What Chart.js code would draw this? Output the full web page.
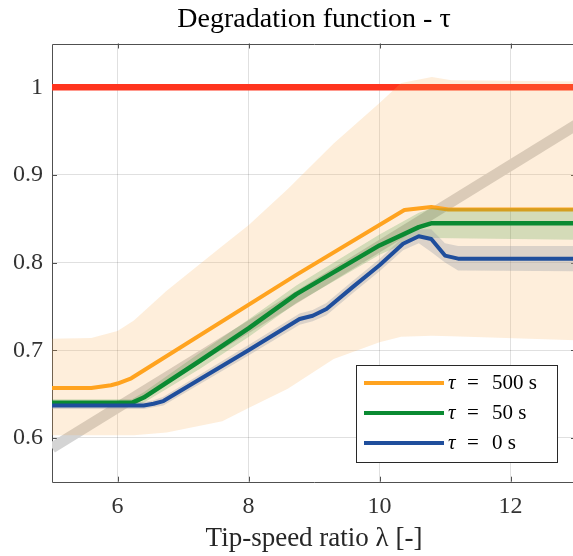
<!DOCTYPE html>
<html>
<head>
<meta charset="utf-8">
<script src="https://cdn.jsdelivr.net/npm/chart.js@4.4.1/dist/chart.umd.min.js"></script>
<style>
  html, body { margin: 0; padding: 0; background: #fff; overflow: hidden; }
</style>
</head>
<body>
<canvas id="degradChart" width="580" height="556"></canvas>
<script>
// Axes
const xTicks = [6, 8, 10, 12];
const yTicks = [0.6, 0.7, 0.8, 0.9, 1];

// Ligne de référence (rouge) et ligne grise
const refX = [5, 13];
const refY = [1, 1];
const diagX = [5, 13];
const diagY = [0.5886, 0.957];

// Bande orange (enveloppe)
const bandX = [5, 5.6, 6, 6.25, 6.75, 7.6, 8, 8.6, 9.3, 10, 10.33, 10.8, 11.1, 13];
const bandUpper = [0.713, 0.714, 0.722, 0.734, 0.768, 0.819, 0.8425, 0.884, 0.936, 0.982, 1.005, 1.0117, 1.008, 1.0067];
const bandLower = [0.603, 0.603, 0.603, 0.603, 0.606, 0.619, 0.634, 0.656, 0.690, 0.709, 0.7155, 0.7165, 0.716, 0.7115];

// tau = 500 s
const tau500X = [5, 5.6, 5.9, 6.0, 6.21, 8.73, 10.38, 10.79, 11.05, 13];
const tau500Y = [0.657, 0.657, 0.660, 0.662, 0.668, 0.786, 0.860, 0.8635, 0.8605, 0.8605];

// tau = 50 s
const tau50X = [5, 6.22, 6.4, 7.26, 8, 8.73, 10, 10.6, 10.8, 13];
const tau50Y = [0.640, 0.640, 0.646, 0.688, 0.725, 0.764, 0.8196, 0.8405, 0.845, 0.845];
const tau50Upper = [0.644, 0.644, 0.652, 0.697, 0.735, 0.774, 0.832, 0.857, 0.862, 0.862];
const tau50Lower = [0.636, 0.636, 0.640, 0.679, 0.715, 0.754, 0.809, 0.829, 0.828, 0.826];

// tau = 0 s
const tau0X = [5, 6.4, 6.55, 6.7, 8.0, 8.78, 8.98, 9.19, 9.59, 10.0, 10.36, 10.6, 10.79, 11.0, 11.2, 13];
const tau0Y = [0.637, 0.637, 0.639, 0.642, 0.700, 0.7356, 0.7394, 0.747, 0.772, 0.797, 0.8215, 0.830, 0.827, 0.808, 0.8045, 0.8045];
const tau0Upper = [0.641, 0.641, 0.643, 0.647, 0.706, 0.742, 0.746, 0.754, 0.779, 0.804, 0.829, 0.838, 0.838, 0.822, 0.819, 0.819];
const tau0Lower = [0.633, 0.633, 0.635, 0.637, 0.694, 0.729, 0.733, 0.740, 0.765, 0.790, 0.814, 0.822, 0.812, 0.800, 0.791, 0.790];

const serif = '"Liberation Serif", "Times New Roman", serif';

const pts = (xs, ys) => xs.map((x, i) => ({ x: x, y: ys[i] }));

// Bande sans contour
function band(label, xs, ys, fill, color, order) {
  return {
    label: label, data: pts(xs, ys), borderColor: 'transparent', borderWidth: 0,
    backgroundColor: color, fill: fill, order: order, clip: 0
  };
}

function line(label, xs, ys, color, width, order) {
  return {
    label: label, data: pts(xs, ys), borderColor: color, borderWidth: width,
    fill: false, order: order, clip: 0, borderJoinStyle: 'round'
  };
}

// Cadre + graduations vers l'intérieur (style MATLAB)
const framePlugin = {
  id: 'frame',
  beforeDatasetsDraw(chart) {
    const { ctx, chartArea: a, scales } = chart;
    ctx.save();
    ctx.strokeStyle = 'rgb(80,80,80)';
    ctx.lineWidth = 1;
    ctx.beginPath();
    ctx.rect(Math.round(a.left) + 0.5, Math.round(a.top) + 0.5, Math.round(a.right - a.left), Math.round(a.bottom - a.top));
    const len = 5;
    xTicks.forEach(v => {
      const px = Math.round(scales.x.getPixelForValue(v)) + 0.5;
      ctx.moveTo(px, a.bottom); ctx.lineTo(px, a.bottom - len);
      ctx.moveTo(px, a.top); ctx.lineTo(px, a.top + len);
    });
    yTicks.forEach(v => {
      const py = Math.round(scales.y.getPixelForValue(v)) + 0.5;
      ctx.moveTo(a.left, py); ctx.lineTo(a.left + len, py);
      ctx.moveTo(a.right, py); ctx.lineTo(a.right - len, py);
    });
    ctx.stroke();
    ctx.restore();
  }
};

// Légende dans un cadre, en bas à droite
const legendPlugin = {
  id: 'boxLegend',
  afterDraw(chart) {
    const { ctx } = chart;
    const items = chart.data.datasets.filter(d => d.label.startsWith('τ'));
    const bx = 356, by = 365, bw = 201, bh = 97;
    ctx.save();
    ctx.fillStyle = '#fff';
    ctx.fillRect(bx, by, bw, bh);
    ctx.strokeStyle = 'rgb(40,40,40)';
    ctx.lineWidth = 1;
    ctx.strokeRect(bx + 0.5, by + 0.5, bw, bh);
    items.forEach((d, i) => {
      const y = by + 18 + i * 30;
      ctx.strokeStyle = d.borderColor;
      ctx.lineWidth = 4;
      ctx.beginPath();
      ctx.moveTo(bx + 8, y); ctx.lineTo(bx + 88, y);
      ctx.stroke();
      const val = d.label.split('=')[1].trim();
      ctx.fillStyle = '#000';
      ctx.textBaseline = 'middle';
      ctx.font = 'italic 21px ' + serif;
      ctx.fillText('τ', bx + 92, y);
      ctx.font = '21px ' + serif;
      ctx.fillText('=', bx + 111, y);
      ctx.fillText(val, bx + 136, y);
    });
    ctx.restore();
  }
};

const datasets = [
  line('ref', refX, refY, 'rgb(255,52,30)', 6.5, 9),
  line('diag', diagX, diagY, 'rgb(212,212,212)', 11, 8),
  band('bandUp', bandX, bandUpper, '+1', 'rgba(250,170,75,0.2)', 7),
  band('bandLow', bandX, bandLower, false, 'transparent', 7),
  line('τ = 500 s', tau500X, tau500Y, 'rgb(255,163,31)', 4, 5),
  band('t50Up', tau50X, tau50Upper, '+1', 'rgba(40,140,40,0.2)', 4),
  band('t50Low', tau50X, tau50Lower, false, 'transparent', 4),
  line('τ = 50 s', tau50X, tau50Y, 'rgb(10,138,50)', 4.5, 2),
  band('t0Up', tau0X, tau0Upper, '+1', 'rgba(150,155,165,0.33)', 3),
  band('t0Low', tau0X, tau0Lower, false, 'transparent', 3),
  line('τ = 0 s', tau0X, tau0Y, 'rgb(31,78,156)', 4, 1)
];

const chart = new Chart(document.getElementById('degradChart'), {
  type: 'line',
  data: { datasets: datasets },
  options: {
    responsive: false,
    animation: false,
    layout: { padding: { left: 0, right: 4, top: 0, bottom: 0 } },
    elements: { point: { radius: 0 }, line: { tension: 0 } },
    plugins: {
      legend: { display: false },
      tooltip: { enabled: false },
      title: {
        display: true,
        text: 'Degradation function - τ',
        fullSize: false,
        color: '#000',
        font: { family: serif, size: 28, weight: 'normal' },
        padding: { top: 3, bottom: 6.9 }
      }
    },
    scales: {
      x: {
        type: 'linear',
        min: 5, max: 13,
        afterBuildTicks: s => { s.ticks = xTicks.map(v => ({ value: v })); },
        afterFit: s => { s.height = 74.3; },
        grid: { color: 'rgba(0,0,0,0.12)', drawTicks: false },
        border: { display: false },
        ticks: { padding: 10.9, color: '#333', font: { family: serif, size: 24 }, maxRotation: 0 },
        title: {
          display: true, text: 'Tip-speed ratio λ [-]', color: '#262626',
          font: { family: serif, size: 27 }, padding: { top: 0, bottom: 0.8 }
        }
      },
      y: {
        type: 'linear',
        min: 0.55, max: 1.05,
        afterBuildTicks: s => { s.ticks = yTicks.map(v => ({ value: v })); },
        afterFit: s => { s.width = 52; },
        grid: { color: 'rgba(0,0,0,0.12)', drawTicks: false },
        border: { display: false },
        ticks: {
          padding: 9, color: '#333', font: { family: serif, size: 24 },
          callback: v => (v === 1 ? '1' : v.toFixed(1))
        }
      }
    }
  },
  plugins: [framePlugin, legendPlugin]
});
</script>
</body>
</html>
